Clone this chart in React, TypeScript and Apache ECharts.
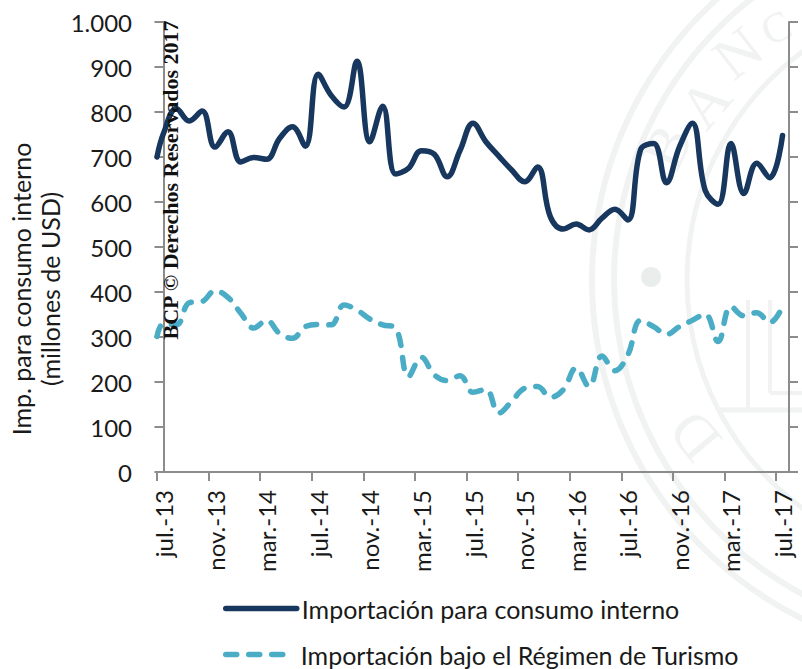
import React, { useEffect, useRef } from "react";
import * as echarts from "echarts";

const months = ["jul.","ago.","set.","oct.","nov.","dic.","ene.","feb.","mar.","abr.","may.","jun."];
const categories: string[] = [];
for (let i = 0; i < 49; i++) {
  const m = i % 12;
  const y = 13 + Math.floor((6 + i) / 12);
  categories.push(`${months[m]}-${y}`);
}

const tickPositions = [-0.5, 3.5, 7.5, 11.5, 15.5, 19.5, 23.5, 27.5, 31.5, 35.5, 39.5, 43.5, 47.5];

const consumoLead = 700;
const consumoInterno = [
  752, 808, 780, 802, 722, 756, 689, 699, 695, 741,
  767, 724, 884, 837, 811, 913, 734, 813, 662, 675,
  714, 706, 656, 715, 775, 734, 702, 671, 645, 678,
  567, 540, 551, 538, 564, 584, 560, 717, 730, 643,
  722, 775, 626, 595, 730, 619, 686, 654, 748,
];

const turismoLead = 301;
const regimenTurismo = [
  330, 327, 376, 379, 403, 388, 353, 320, 337, 308,
  297, 323, 328, 327, 371, 360, 340, 327, 320, 212,
  255, 216, 203, 214, 177, 184, 131, 157, 186, 190,
  166, 183, 231, 190, 258, 225, 260, 337, 323, 306,
  323, 337, 351, 290, 368, 347, 354, 332, 368,
];

const serieConsumo = "Importación para consumo interno";
const serieTurismo = "Importación bajo el Régimen de Turismo";
const axisColor = "#8c8c8c";
const sealColor = "#f0f3f2";
const uiFont = "Lato";
const inkColor = "#1a1a1a";
const dash = [11, 12];

const toPoints = (lead: number, values: number[]) => [
  [-0.5, lead],
  ...values.map((v, i) => [i, v]),
];

const sealCx = 970;
const sealCy = 280;
const ring = (r: number, w: number) => ({
  type: "circle", z: 0, silent: true,
  shape: { cx: sealCx, cy: sealCy, r },
  style: { fill: "none", stroke: sealColor, lineWidth: w },
});
const sealLetter = (t: string, x: number, y: number, deg: number, size = 60) => ({
  type: "text", z: 0, silent: true, x, y, rotation: (deg * Math.PI) / 180,
  style: { text: t, fill: sealColor, font: `${size}px "Liberation Serif"`, align: "center", verticalAlign: "middle" },
});
const legendBase = {
  orient: "vertical", left: 223, padding: 0, itemHeight: 14,
  itemStyle: { opacity: 0 },
};

export default function App() {
  const ref = useRef<HTMLDivElement>(null);
  useEffect(() => {
    const chart = echarts.init(ref.current!, undefined, { renderer: "svg" });
    chart.setOption({
      animation: false,
      backgroundColor: "#ffffff",
      grid: { left: 157, right: 13, top: 22, bottom: 197, containLabel: false },
      legend: [
        {
          ...legendBase, top: 596, itemWidth: 71, data: [serieConsumo],
          lineStyle: { width: 5.5, cap: "round" },
          textStyle: { fontFamily: uiFont, fontSize: 25, color: inkColor },
        },
        {
          ...legendBase, top: 642, itemWidth: 66, data: [serieTurismo],
          lineStyle: { width: 5.5, cap: "round", type: dash },
          textStyle: { fontFamily: uiFont, fontSize: 25, color: inkColor, padding: [0, 0, 0, 4] },
        },
      ],
      xAxis: [
        {
          type: "category", data: categories, boundaryGap: true,
          axisLine: { lineStyle: { color: axisColor, width: 2 } },
          axisTick: { show: false },
          axisLabel: { interval: 3, rotate: 90, margin: 18, fontFamily: uiFont, fontSize: 24, color: inkColor },
          splitLine: { show: false },
        },
        {
          type: "value", min: -0.5, max: 48.5, position: "bottom",
          axisLine: { show: false },
          axisTick: { show: true, customValues: tickPositions, length: 9, lineStyle: { color: axisColor, width: 2 } },
          axisLabel: { show: false },
          splitLine: { show: false },
        },
      ],
      yAxis: [
        {
          type: "value", min: 0, max: 1000, interval: 100, position: "left",
          axisLine: { show: true, lineStyle: { color: axisColor, width: 2 } },
          axisTick: { show: true, length: 9, lineStyle: { color: axisColor, width: 2 } },
          axisLabel: { margin: 25, fontFamily: uiFont, fontSize: 24, color: inkColor,
            formatter: (v: number) => (v === 1000 ? "1.000" : String(v)) },
          splitLine: { show: false },
        },
        {
          type: "value", min: 0, max: 1000, interval: 100, position: "right",
          axisLine: { show: true, lineStyle: { color: axisColor, width: 2 } },
          axisTick: { show: true, length: 9, lineStyle: { color: axisColor, width: 2 } },
          axisLabel: { show: false },
          splitLine: { show: false },
        },
      ],
      series: [
        {
          name: serieConsumo, type: "line", xAxisIndex: 1, yAxisIndex: 0, smooth: 0.4,
          showSymbol: false, symbol: "none", data: toPoints(consumoLead, consumoInterno),
          itemStyle: { color: "#17375e" },
          lineStyle: { color: "#17375e", width: 5.5, cap: "round", join: "round" },
        },
        {
          name: serieTurismo, type: "line", xAxisIndex: 1, yAxisIndex: 0, smooth: 0.4,
          showSymbol: false, symbol: "none", data: toPoints(turismoLead, regimenTurismo),
          itemStyle: { color: "#4bacc6" },
          lineStyle: { color: "#4bacc6", width: 5.5, type: dash, cap: "round", join: "round" },
        },
      ],
      graphic: {
        elements: [
          ring(378, 6), ring(356, 6), ring(283, 5),
          { type: "circle", z: 0, silent: true, shape: { cx: 651, cy: 277, r: 10 }, style: { fill: "#e9edec" } },
          sealLetter("B", 667, 147, 65),
          sealLetter("A", 705, 103, 50),
          sealLetter("N", 738, 53, 38),
          sealLetter("C", 776, 28, 25, 42),
          sealLetter("D", 695, 436, 130),
          { type: "line", z: 0, silent: true, shape: { x1: 720, y1: 410, x2: 802, y2: 410 }, style: { stroke: sealColor, lineWidth: 5 } },
          { type: "line", z: 0, silent: true, shape: { x1: 748, y1: 300, x2: 748, y2: 410 }, style: { stroke: sealColor, lineWidth: 4 } },
          { type: "line", z: 0, silent: true, shape: { x1: 770, y1: 300, x2: 770, y2: 393 }, style: { stroke: sealColor, lineWidth: 4 } },
          { type: "line", z: 0, silent: true, shape: { x1: 770, y1: 393, x2: 802, y2: 393 }, style: { stroke: sealColor, lineWidth: 4 } },
          {
            type: "text", z: 10, silent: true, x: 21, y: 289, rotation: Math.PI / 2,
            style: { text: "Imp. para consumo interno", fill: inkColor, font: `25px ${uiFont}`, align: "center", verticalAlign: "middle" },
          },
          {
            type: "text", z: 10, silent: true, x: 50, y: 289, rotation: Math.PI / 2,
            style: { text: "(millones de USD)", fill: inkColor, font: `25px ${uiFont}`, align: "center", verticalAlign: "middle" },
          },
          {
            type: "text", z: 100, silent: true, x: 170.5, y: 180, rotation: Math.PI / 2,
            style: { text: "BCP © Derechos Reservados 2017", fill: "#111111", font: `bold 22px "Liberation Serif"`, align: "center", verticalAlign: "middle" },
          },
        ],
      },
    });
    return () => chart.dispose();
  }, []);
  return <div ref={ref} style={{ position: "absolute", left: 0, top: 0, width: 802, height: 669 }} />;
}
